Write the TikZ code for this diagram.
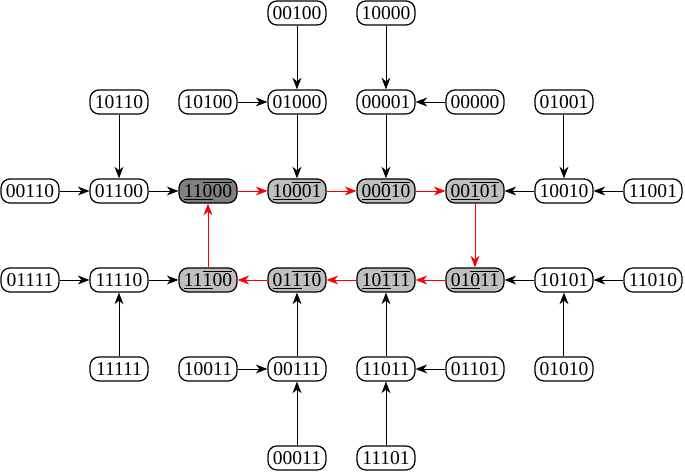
\documentclass[tikz,border=0pt]{standalone}
\usepackage{fontspec}
\setmainfont{Liberation Serif}
\usepackage{xcolor}
\usetikzlibrary{arrows.meta}

\newcommand{\ulo}[3]{$\underline{\mbox{#1}\overline{\mbox{#2}}}\overline{\mbox{#3}}$}

\begin{document}
\begin{tikzpicture}[
  box/.style={draw, thick, rounded corners=2mm, minimum width=1.3cm, minimum height=0.54cm, inner sep=1pt, align=center, font=\fontsize{12.5}{15}\selectfont},
  cyc/.style={box, fill=black!25},
  start/.style={box, fill=black!50},
  arr/.style={-{Stealth[length=2.6mm, width=2mm, inset=0.8mm]}, semithick},
  red arr/.style={arr, red},
]
\useasboundingbox (-0.674,0.292) rectangle (14.72,-10.36);

\node[box] (n00100) at (6,0) {00100};
\node[box] (n10000) at (8,0) {10000};

\node[box] (n10110) at (2,-2) {10110};
\node[box] (n10100) at (4,-2) {10100};
\node[box] (n01000) at (6,-2) {01000};
\node[box] (n00001) at (8,-2) {00001};
\node[box] (n00000) at (10,-2) {00000};
\node[box] (n01001) at (12,-2) {01001};

\node[box]   (n00110) at (0,-4) {00110};
\node[box]   (n01100) at (2,-4) {01100};
\node[start] (n11000) at (4,-4) {\ulo{11}{0}{00}};
\node[cyc]   (n10001) at (6,-4) {\ulo{10}{0}{01}};
\node[cyc]   (n00010) at (8,-4) {\ulo{00}{0}{10}};
\node[cyc]   (n00101) at (10,-4) {\ulo{00}{1}{01}};
\node[box]   (n10010) at (12,-4) {10010};
\node[box]   (n11001) at (14,-4) {11001};

\node[box] (n01111) at (0,-6) {01111};
\node[box] (n11110) at (2,-6) {11110};
\node[cyc] (n11100) at (4,-6) {\ulo{11}{1}{00}};
\node[cyc] (n01110) at (6,-6) {\ulo{01}{1}{10}};
\node[cyc] (n10111) at (8,-6) {\ulo{10}{1}{11}};
\node[cyc] (n01011) at (10,-6) {\ulo{01}{0}{11}};
\node[box] (n10101) at (12,-6) {10101};
\node[box] (n11010) at (14,-6) {11010};

\node[box] (n11111) at (2,-8) {11111};
\node[box] (n10011) at (4,-8) {10011};
\node[box] (n00111) at (6,-8) {00111};
\node[box] (n11011) at (8,-8) {11011};
\node[box] (n01101) at (10,-8) {01101};
\node[box] (n01010) at (12,-8) {01010};

\node[box] (n00011) at (6,-10) {00011};
\node[box] (n11101) at (8,-10) {11101};

% trees into the cycle
\draw[arr] (n00100) -- (n01000);
\draw[arr] (n10000) -- (n00001);
\draw[arr] (n10110) -- (n01100);
\draw[arr] (n10100) -- (n01000);
\draw[arr] (n01000) -- (n10001);
\draw[arr] (n00001) -- (n00010);
\draw[arr] (n00000) -- (n00001);
\draw[arr] (n01001) -- (n10010);
\draw[arr] (n00110) -- (n01100);
\draw[arr] (n01100) -- (n11000);
\draw[arr] (n10010) -- (n00101);
\draw[arr] (n11001) -- (n10010);
\draw[arr] (n01111) -- (n11110);
\draw[arr] (n11110) -- (n11100);
\draw[arr] (n10101) -- (n01011);
\draw[arr] (n11010) -- (n10101);
\draw[arr] (n11111) -- (n11110);
\draw[arr] (n10011) -- (n00111);
\draw[arr] (n00111) -- (n01110);
\draw[arr] (n11011) -- (n10111);
\draw[arr] (n01101) -- (n11011);
\draw[arr] (n01010) -- (n10101);
\draw[arr] (n00011) -- (n00111);
\draw[arr] (n11101) -- (n11011);

% the cycle
\draw[red arr] (n11000) -- (n10001);
\draw[red arr] (n10001) -- (n00010);
\draw[red arr] (n00010) -- (n00101);
\draw[red arr] (n00101) -- (n01011);
\draw[red arr] (n01011) -- (n10111);
\draw[red arr] (n10111) -- (n01110);
\draw[red arr] (n01110) -- (n11100);
\draw[red arr] (n11100) -- (n11000);
\end{tikzpicture}
\end{document}
